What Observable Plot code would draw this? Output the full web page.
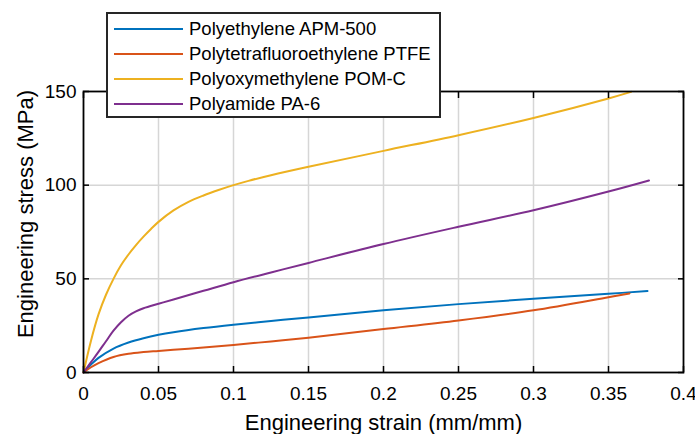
<!DOCTYPE html>
<html>
<head>
<meta charset="utf-8">
<script src="https://cdn.jsdelivr.net/npm/d3@7"></script>
<script src="https://cdn.jsdelivr.net/npm/@observablehq/plot@0.6"></script>
<style>
  body { margin: 0; background: #fff; }
  #wrap { position: relative; width: 695px; height: 434px; font-family: "Liberation Sans", Arial, sans-serif; }
  #legend { position: absolute; left: 106px; top: 12px; width: 335px; height: 106px; box-sizing: border-box;
            border: 2px solid #262626; background: #fff; }
  .item { position: absolute; left: 0; height: 20px; display: flex; align-items: center; }
  .sw { width: 69px; height: 2.2px; margin-left: 6px; margin-right: 6px; }
  .lab { font-size: 18.5px; color: #000; white-space: nowrap; }
</style>
</head>
<body>
<div id="wrap"></div>
<script>
// Series names and colours
const materials = ["Polyethylene APM-500", "Polytetrafluoroethylene PTFE", "Polyoxymethylene POM-C", "Polyamide PA-6"];
const colors = ["#0072BD", "#D95319", "#EDB120", "#7E2F8E"];

// Polyethylene APM-500
const peStrain = [0, 0.005, 0.01, 0.02, 0.03, 0.04, 0.05, 0.06, 0.08, 0.1, 0.125, 0.15, 0.2, 0.25, 0.3, 0.35, 0.376];
const peStress = [0, 4.2, 7.8, 12.8, 16, 18.3, 20.1, 21.5, 23.7, 25.5, 27.5, 29.4, 33.2, 36.5, 39.4, 42, 43.5];

// Polytetrafluoroethylene PTFE
const ptfeStrain = [0, 0.005, 0.01, 0.02, 0.03, 0.04, 0.05, 0.065, 0.08, 0.1, 0.125, 0.15, 0.2, 0.25, 0.3, 0.35, 0.364];
const ptfeStress = [0, 2.8, 5.0, 8.3, 10.0, 10.9, 11.5, 12.4, 13.3, 14.7, 16.6, 18.6, 23.2, 27.8, 33.2, 40.2, 42.2];

// Polyoxymethylene POM-C
const pomStrain = [0, 0.005, 0.01, 0.015, 0.02, 0.025, 0.03, 0.035, 0.04, 0.045, 0.05, 0.06, 0.07, 0.08, 0.09, 0.1, 0.11, 0.125, 0.15, 0.2, 0.25, 0.3, 0.35, 0.365];
const pomStress = [0, 17, 31, 41.5, 50, 57.2, 63, 68, 72.5, 76.6, 80.4, 86.5, 91.1, 94.5, 97.4, 100, 102.3, 105.3, 109.8, 118.3, 126.7, 135.9, 146.3, 149.8];

// Polyamide PA-6
const paStrain = [0, 0.005, 0.01, 0.015, 0.02, 0.025, 0.03, 0.035, 0.04, 0.05, 0.06, 0.08, 0.1, 0.125, 0.15, 0.2, 0.25, 0.3, 0.35, 0.377];
const paStress = [0, 5.5, 11, 16.7, 22.3, 26.8, 30.3, 32.6, 34.3, 36.7, 39, 43.6, 48.2, 53.4, 58.5, 68.6, 77.8, 86.6, 96.6, 102.5];

// Ticks and labels
const xTicks = [0, 0.05, 0.1, 0.15, 0.2, 0.25, 0.3, 0.35, 0.4];
const yTicks = [0, 50, 100, 150];
const xGrid = [0.05, 0.1, 0.15, 0.2, 0.25, 0.3, 0.35];
const yGrid = [50, 100];
const xLabel = "Engineering strain (mm/mm)";
const yLabel = "Engineering stress (MPa)";

const strains = [peStrain, ptfeStrain, pomStrain, paStrain];
const stresses = [peStress, ptfeStress, pomStress, paStress];
const rows = [];
materials.forEach((m, k) => strains[k].forEach((s, i) => rows.push({material: m, strain: s, stress: stresses[k][i]})));

const chart = Plot.plot({
  width: 695,
  height: 434,
  marginLeft: 83,
  marginRight: 12,
  marginTop: 91,
  marginBottom: 62,
  style: {fontFamily: "'Liberation Sans', Arial, sans-serif", fontSize: "19px", color: "#000", background: "#fff"},
  x: {domain: [0, 0.4]},
  y: {domain: [0, 150]},
  color: {domain: materials, range: colors},
  marks: [
    Plot.gridX(xGrid, {stroke: "#d6d6d6", strokeOpacity: 1, strokeWidth: 1.5}),
    Plot.gridY(yGrid, {stroke: "#d6d6d6", strokeOpacity: 1, strokeWidth: 1.5}),
    Plot.line(rows, {x: "strain", y: "stress", z: "material", stroke: "material", curve: "catmull-rom", strokeWidth: 2}),
    Plot.axisX(xTicks, {anchor: "bottom", tickSize: -6, tickPadding: 20, strokeWidth: 1.5, tickFormat: d => String(d), label: null, fontSize: 19}),
    Plot.axisX(xTicks, {anchor: "top", tickSize: -6, strokeWidth: 1.5, tickFormat: () => "", label: null}),
    Plot.axisY(yTicks, {anchor: "left", tickSize: -6, tickPadding: 13, strokeWidth: 1.5, tickFormat: d => String(d), label: null, fontSize: 19}),
    Plot.axisY(yTicks, {anchor: "right", tickSize: -6, strokeWidth: 1.5, tickFormat: () => "", label: null}),
    Plot.frame({stroke: "#000", strokeWidth: 1.8}),
    Plot.text([xLabel], {frameAnchor: "bottom", dy: 50, lineAnchor: "middle", textAnchor: "middle", fontSize: 22, fill: "#000"}),
    Plot.text([yLabel], {frameAnchor: "left", dx: -58, dy: -18, rotate: -90, lineAnchor: "middle", textAnchor: "middle", fontSize: 22, fill: "#000"})
  ]
});

const wrap = document.getElementById("wrap");
wrap.appendChild(chart);

const legend = d3.select(wrap).append("div").attr("id", "legend");
materials.forEach((m, i) => {
  const item = legend.append("div").attr("class", "item").style("top", (5 + i * 25) + "px");
  item.append("div").attr("class", "sw").style("background", colors[i]);
  item.append("span").attr("class", "lab").text(m);
});
</script>
</body>
</html>
